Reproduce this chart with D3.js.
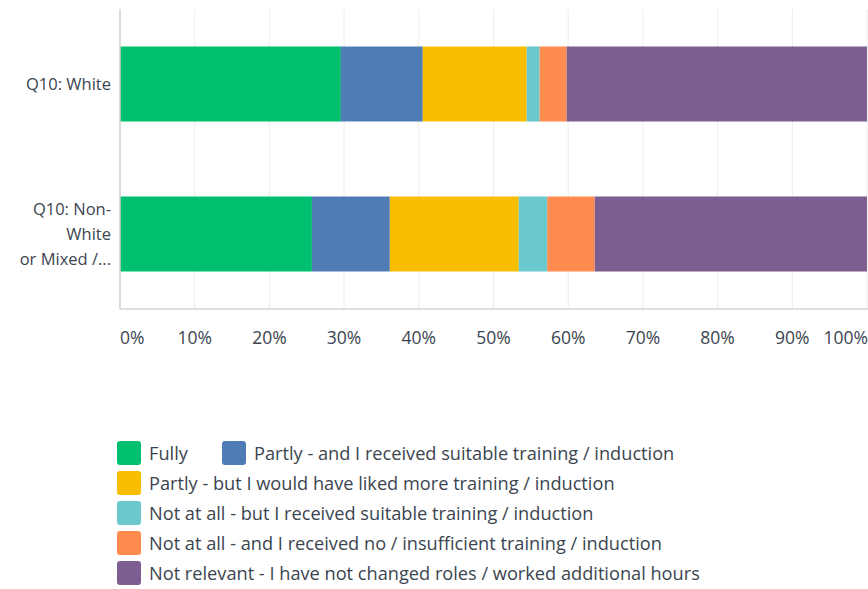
<!DOCTYPE html>
<html><head><meta charset="utf-8">
<script src="https://cdn.jsdelivr.net/npm/d3@7"></script>
<style>body{margin:0;background:#fff;}svg{display:block;font-family:"Open Sans",sans-serif;}</style>
</head><body><svg id="c" width="868" height="589"></svg>
<script>
const categories = ["Q10: White", "Q10: Non-White or Mixed /..."];
const categoryLines = [["Q10: White"], ["Q10: Non-", "White", "or Mixed /..."]];
const seriesNames = [
  "Fully",
  "Partly - and I received suitable training / induction",
  "Partly - but I would have liked more training / induction",
  "Not at all - but I received suitable training / induction",
  "Not at all - and I received no / insufficient training / induction",
  "Not relevant - I have not changed roles / worked additional hours"
];
const colors = ["#00bf6f", "#507cb6", "#f9be00", "#6bc8cd", "#ff8b4f", "#7d5e90"];
const valuesWhite = [29.57, 10.96, 13.91, 1.74, 3.61, 40.21];
const valuesNonWhite = [25.69, 10.43, 17.26, 3.82, 6.35, 36.45];
const tickValues = [0,10,20,30,40,50,60,70,80,90,100];

const svg = d3.select("#c");
const textColor = "#3b4550";
const x = d3.scaleLinear().domain([0,100]).range([120, 867]);
const y = d3.scaleBand().domain(categories).range([9, 309]).paddingInner(0.5).paddingOuter(0.25);

// gridlines
svg.append("g").selectAll("line").data(tickValues.slice(1)).join("line")
  .attr("x1", d=>x(d)).attr("x2", d=>x(d)).attr("y1", 9).attr("y2", 309)
  .attr("stroke", "#ececec").attr("stroke-width", 1);

const data = [valuesWhite, valuesNonWhite];
const rows = categories.map((c,i)=>{ const o={cat:c}; seriesNames.forEach((s,j)=>o[s]=data[i][j]); return o; });
const stack = d3.stack().keys(seriesNames)(rows);
svg.append("g").selectAll("g").data(stack).join("g")
  .attr("fill", (d,i)=>colors[i])
  .selectAll("rect").data(d=>d).join("rect")
  .attr("x", d=>x(d[0])).attr("width", d=>x(d[1])-x(d[0]))
  .attr("y", d=>y(d.data.cat)).attr("height", y.bandwidth());

// axis lines
svg.append("line").attr("x1",120).attr("x2",120).attr("y1",9).attr("y2",309).attr("stroke","#cfcfcf").attr("stroke-width",1.5);
svg.append("line").attr("x1",120).attr("x2",868).attr("y1",309).attr("y2",309).attr("stroke","#d5d5d5").attr("stroke-width",1.5);

// x tick labels
svg.append("g").selectAll("text").data(tickValues).join("text")
  .attr("x", d=> d===0 ? x(d) : d===100 ? 868 : x(d))
  .attr("y", 344)
  .attr("text-anchor", d=> d===0 ? "start" : d===100 ? "end" : "middle")
  .attr("fill", textColor).attr("font-size", 17.5)
  .text(d=>d+"%");

// category labels
categories.forEach((c,i)=>{
  const lines = categoryLines[i];
  const cy = y(c) + y.bandwidth()/2;
  const lh = 25;
  const t = svg.append("text").attr("text-anchor","end").attr("fill",textColor).attr("font-size",16.5);
  lines.forEach((l,k)=>{
    t.append("tspan").attr("x",111).attr("y", cy + (k-(lines.length-1)/2)*lh + 6).text(l);
  });
});

// legend
const legendPos = [[117,441],[222,441],[117,471],[117,501],[117,531],[117,561]];
seriesNames.forEach((s,i)=>{
  const [lx,ly] = legendPos[i];
  svg.append("rect").attr("x",lx).attr("y",ly).attr("width",24).attr("height",24).attr("rx",3).attr("fill",colors[i]);
  svg.append("text").attr("x",lx+32).attr("y",ly+19).attr("fill",textColor).attr("font-size",18.2).text(s);
});
</script></body></html>
